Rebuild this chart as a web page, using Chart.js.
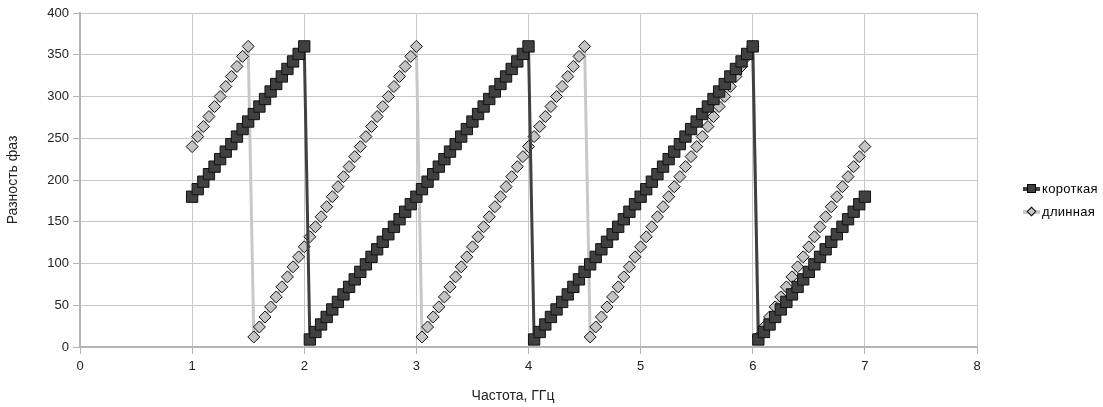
<!DOCTYPE html>
<html lang="ru">
<head>
  <meta charset="UTF-8" />
  <title>Разность фаз</title>
  <script src="https://cdn.jsdelivr.net/npm/chart.js"></script>
  <style>
    body {
      margin: 0;
      background: #ffffff;
      font-family: 'Liberation Sans', Arial, sans-serif;
    }
    .wrap {
      position: relative;
      width: 1103px;
      height: 407px;
    }
    /* x axis title, a little left of the plot centre as in the original */
    .xtitle {
      position: absolute;
      left: 413px;
      width: 200px;
      top: 387px;
      text-align: center;
      font-size: 14px;
      line-height: 16px;
      color: #222;
    }
    /* legend on the right, drawn as html */
    .legend {
      position: absolute;
      left: 1023px;
      top: 181px;
      font-size: 13px;
      color: #000;
    }
    .legend .item {
      position: relative;
      height: 23px;
      line-height: 16px;
      padding-left: 19px;
      letter-spacing: 0.3px;
    }
    .legend .ln {
      position: absolute;
      left: 0;
      top: 6px;
      width: 17px;
      height: 4px;
    }
    .legend .mk {
      position: absolute;
      box-sizing: border-box;
      border: 1px solid #000;
    }
  </style>
</head>
<body>
<div class="wrap">
  <canvas id="chart" width="1103" height="407"></canvas>
  <div class="xtitle" id="xtitle"></div>
  <div class="legend">
    <div class="item">
      <span class="ln" style="background:#404040"></span>
      <span class="mk" style="left:4px;top:3px;width:9px;height:9px;background:#404040"></span>
      короткая
    </div>
    <div class="item">
      <span class="ln" style="background:#c8c8c8"></span>
      <span class="mk" style="left:5px;top:4px;width:7px;height:7px;background:#c8c8c8;transform:rotate(45deg)"></span>
      длинная
    </div>
  </div>
</div>

<script>
  // frequency, GHz
  const freq = [
    1, 1.05, 1.1, 1.15, 1.2, 1.25, 1.3, 1.35, 1.4, 1.45, 1.5, 1.55, 1.6, 1.65, 1.7, 1.75, 1.8, 1.85, 1.9, 1.95,
    2, 2.05, 2.1, 2.15, 2.2, 2.25, 2.3, 2.35, 2.4, 2.45, 2.5, 2.55, 2.6, 2.65, 2.7, 2.75, 2.8, 2.85, 2.9, 2.95,
    3, 3.05, 3.1, 3.15, 3.2, 3.25, 3.3, 3.35, 3.4, 3.45, 3.5, 3.55, 3.6, 3.65, 3.7, 3.75, 3.8, 3.85, 3.9, 3.95,
    4, 4.05, 4.1, 4.15, 4.2, 4.25, 4.3, 4.35, 4.4, 4.45, 4.5, 4.55, 4.6, 4.65, 4.7, 4.75, 4.8, 4.85, 4.9, 4.95,
    5, 5.05, 5.1, 5.15, 5.2, 5.25, 5.3, 5.35, 5.4, 5.45, 5.5, 5.55, 5.6, 5.65, 5.7, 5.75, 5.8, 5.85, 5.9, 5.95,
    6, 6.05, 6.1, 6.15, 6.2, 6.25, 6.3, 6.35, 6.4, 6.45, 6.5, 6.55, 6.6, 6.65, 6.7, 6.75, 6.8, 6.85, 6.9, 6.95,
    7
  ];

  // phase difference, short line
  const shortPhase = [
    180, 189, 198, 207, 216, 225, 234, 243, 252, 261, 270, 279, 288, 297, 306, 315, 324, 333, 342, 351,
    360, 9, 18, 27, 36, 45, 54, 63, 72, 81, 90, 99, 108, 117, 126, 135, 144, 153, 162, 171,
    180, 189, 198, 207, 216, 225, 234, 243, 252, 261, 270, 279, 288, 297, 306, 315, 324, 333, 342, 351,
    360, 9, 18, 27, 36, 45, 54, 63, 72, 81, 90, 99, 108, 117, 126, 135, 144, 153, 162, 171,
    180, 189, 198, 207, 216, 225, 234, 243, 252, 261, 270, 279, 288, 297, 306, 315, 324, 333, 342, 351,
    360, 9, 18, 27, 36, 45, 54, 63, 72, 81, 90, 99, 108, 117, 126, 135, 144, 153, 162, 171,
    180
  ];

  // phase difference, long line
  const longPhase = [
    240, 252, 264, 276, 288, 300, 312, 324, 336, 348, 360, 12, 24, 36, 48, 60, 72, 84, 96, 108,
    120, 132, 144, 156, 168, 180, 192, 204, 216, 228, 240, 252, 264, 276, 288, 300, 312, 324, 336, 348,
    360, 12, 24, 36, 48, 60, 72, 84, 96, 108, 120, 132, 144, 156, 168, 180, 192, 204, 216, 228,
    240, 252, 264, 276, 288, 300, 312, 324, 336, 348, 360, 12, 24, 36, 48, 60, 72, 84, 96, 108,
    120, 132, 144, 156, 168, 180, 192, 204, 216, 228, 240, 252, 264, 276, 288, 300, 312, 324, 336, 348,
    360, 12, 24, 36, 48, 60, 72, 84, 96, 108, 120, 132, 144, 156, 168, 180, 192, 204, 216, 228,
    240
  ];

  const seriesNames = ['короткая', 'длинная'];
  const xTitle = 'Частота, ГГц';
  const yTitle = 'Разность фаз';

  document.getElementById('xtitle').textContent = xTitle;

  const toPoints = vals => freq.map((f, i) => ({ x: f, y: vals[i] }));

  const tickFont = { family: "'Liberation Sans', Arial, sans-serif", size: 13 };
  const titleFont = { family: "'Liberation Sans', Arial, sans-serif", size: 14 };

  new Chart(document.getElementById('chart'), {
    type: 'line',
    data: {
      datasets: [
        {
          label: seriesNames[0],
          data: toPoints(shortPhase),
          borderColor: '#404040',
          borderWidth: 3,
          backgroundColor: '#404040',
          pointStyle: 'rect',
          pointRadius: 8,
          pointBorderColor: '#111111',
          pointBorderWidth: 1,
          tension: 0
        },
        {
          label: seriesNames[1],
          data: toPoints(longPhase),
          borderColor: '#c8c8c8',
          borderWidth: 3,
          backgroundColor: '#c4c4c4',
          pointStyle: 'rectRot',
          pointRadius: 6,
          pointBorderColor: '#111111',
          pointBorderWidth: 1,
          tension: 0
        }
      ]
    },
    options: {
      responsive: false,
      animation: false,
      devicePixelRatio: 1,
      layout: { padding: { top: 13, right: 126, left: 0, bottom: 0 } },
      plugins: {
        legend: { display: false },
        tooltip: { enabled: false }
      },
      scales: {
        x: {
          type: 'linear',
          min: 0,
          max: 8,
          ticks: { stepSize: 1, color: '#222', font: tickFont, padding: 5 },
          grid: { color: '#c8c8c8', tickColor: '#b4b4b4', tickLength: 7 },
          border: { color: '#b4b4b4', width: 2 },
          title: { display: false },
          afterFit: s => { s.height = 60; }
        },
        y: {
          min: 0,
          max: 400,
          ticks: { stepSize: 50, color: '#222', font: tickFont, padding: 4 },
          grid: { color: '#c8c8c8', tickColor: '#b4b4b4', tickLength: 7 },
          border: { color: '#b4b4b4', width: 2 },
          title: { display: true, text: yTitle, color: '#222', font: titleFont, padding: { top: 5 } },
          afterFit: s => { s.width = 80; }
        }
      }
    }
  });
</script>
</body>
</html>
